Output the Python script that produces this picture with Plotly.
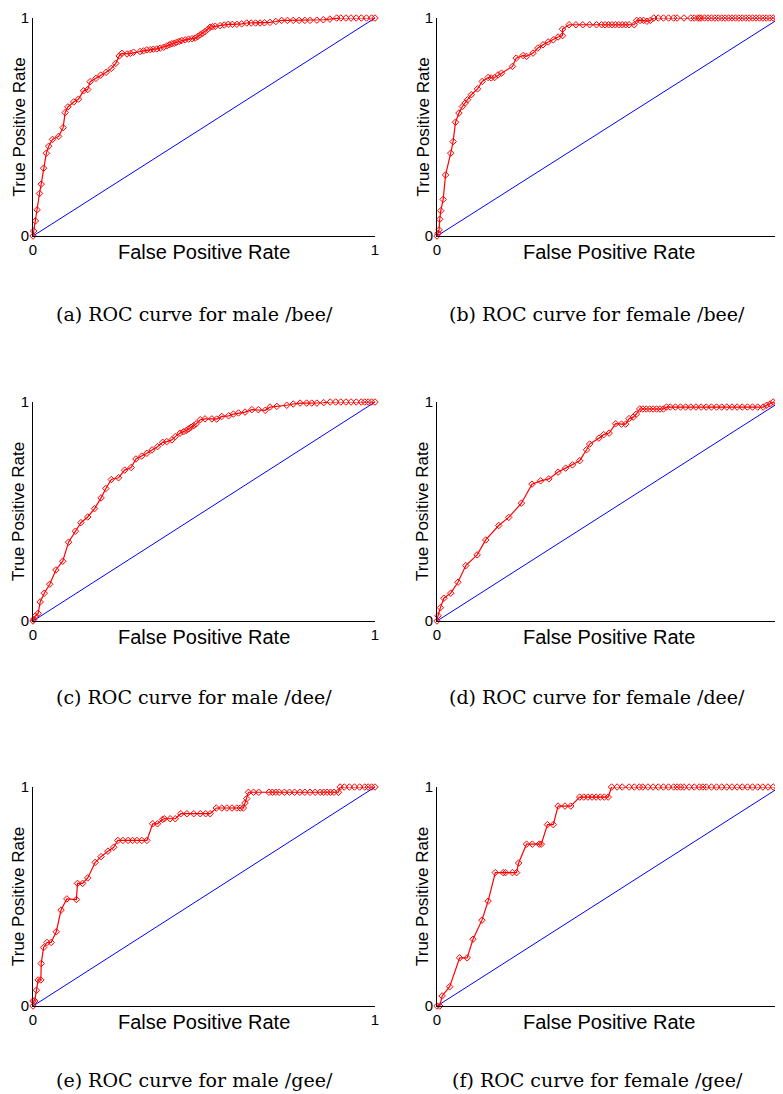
import plotly.graph_objects as go

# ---------------- data ----------------
diag_x = [0, 1]
diag_y = [0, 1]

fpr_a = [0, 0.002, 0.007, 0.012, 0.019, 0.024, 0.031, 0.039, 0.046, 0.057, 0.075, 0.088, 0.094, 0.102,
         0.119, 0.133, 0.148, 0.16, 0.167, 0.184, 0.198, 0.214, 0.229, 0.242, 0.252, 0.26, 0.275, 0.285,
         0.294, 0.313, 0.323, 0.333, 0.343, 0.352, 0.362, 0.372, 0.382, 0.391, 0.399, 0.406, 0.413, 0.42,
         0.428, 0.435, 0.445, 0.455, 0.465, 0.474, 0.482, 0.489, 0.496, 0.503, 0.511, 0.518, 0.525, 0.533,
         0.547, 0.559, 0.571, 0.583, 0.596, 0.61, 0.625, 0.638, 0.651, 0.664, 0.677, 0.693, 0.71, 0.727,
         0.744, 0.761, 0.778, 0.795, 0.81, 0.83, 0.849, 0.868, 0.888, 0.9, 0.915, 0.93, 0.945, 0.96, 0.975,
         0.99, 1]
tpr_a = [0, 0.023, 0.069, 0.12, 0.195, 0.238, 0.311, 0.38, 0.412, 0.443, 0.457, 0.497, 0.566, 0.592,
         0.615, 0.628, 0.666, 0.672, 0.708, 0.723, 0.738, 0.751, 0.769, 0.792, 0.826, 0.838, 0.835, 0.838,
         0.843, 0.846, 0.849, 0.854, 0.855, 0.857, 0.858, 0.862, 0.866, 0.872, 0.877, 0.882, 0.884, 0.889,
         0.893, 0.897, 0.9, 0.903, 0.905, 0.908, 0.915, 0.923, 0.93, 0.938, 0.948, 0.958, 0.96, 0.962,
         0.965, 0.968, 0.971, 0.971, 0.971, 0.973, 0.977, 0.977, 0.977, 0.977, 0.978, 0.98, 0.984, 0.989,
         0.989, 0.989, 0.989, 0.989, 0.989, 0.99, 0.992, 0.995, 1, 1, 1, 1, 1, 1, 1,
         1, 1]

fpr_b = [0, 0.003, 0.006, 0.008, 0.011, 0.018, 0.025, 0.04, 0.047, 0.054, 0.064, 0.074, 0.082, 0.089,
         0.1, 0.118, 0.132, 0.149, 0.158, 0.168, 0.178, 0.188, 0.22, 0.231, 0.251, 0.261, 0.28, 0.294,
         0.309, 0.324, 0.339, 0.353, 0.366, 0.366, 0.385, 0.405, 0.425, 0.445, 0.465, 0.48, 0.49, 0.5,
         0.51, 0.52, 0.53, 0.54, 0.55, 0.56, 0.575, 0.582, 0.592, 0.602, 0.612, 0.622, 0.632, 0.645, 0.66,
         0.675, 0.69, 0.7, 0.72, 0.74, 0.75, 0.76, 0.765, 0.77, 0.78, 0.79, 0.8, 0.81, 0.82, 0.83, 0.84,
         0.85, 0.86, 0.87, 0.88, 0.89, 0.9, 0.91, 0.92, 0.93, 0.94, 0.95, 0.96, 0.97, 0.98, 0.99, 1]
tpr_b = [0, 0.012, 0.028, 0.077, 0.116, 0.168, 0.28, 0.38, 0.433, 0.522, 0.564, 0.594, 0.61, 0.625,
         0.648, 0.675, 0.709, 0.727, 0.725, 0.727, 0.739, 0.747, 0.778, 0.816, 0.828, 0.824, 0.839, 0.862,
         0.877, 0.89, 0.9, 0.913, 0.919, 0.949, 0.969, 0.969, 0.969, 0.969, 0.969, 0.969, 0.969, 0.969,
         0.969, 0.969, 0.969, 0.969, 0.969, 0.969, 0.969, 0.989, 0.989, 0.989, 0.985, 0.989, 1, 1, 1,
         1, 1, 1, 1, 1, 1, 1, 1, 1, 1, 1, 1, 1, 1, 1, 1,
         1, 1, 1, 1, 1, 1, 1, 1, 1, 1, 1, 1, 1, 1, 1, 1]

fpr_c = [0, 0.002, 0.007, 0.015, 0.021, 0.033, 0.049, 0.067, 0.087, 0.104, 0.124, 0.14, 0.16, 0.18,
         0.199, 0.213, 0.229, 0.25, 0.268, 0.287, 0.301, 0.318, 0.333, 0.348, 0.364, 0.379, 0.391, 0.406,
         0.416, 0.43, 0.44, 0.448, 0.455, 0.462, 0.47, 0.477, 0.489, 0.503, 0.523, 0.537, 0.552, 0.572,
         0.586, 0.601, 0.62, 0.64, 0.659, 0.679, 0.693, 0.713, 0.742, 0.761, 0.781, 0.8, 0.815, 0.83, 0.85,
         0.869, 0.885, 0.9, 0.915, 0.93, 0.945, 0.96, 0.97, 0.98, 0.99, 1]
tpr_c = [0, 0.008, 0.023, 0.035, 0.087, 0.127, 0.168, 0.233, 0.273, 0.36, 0.41, 0.449, 0.475, 0.513,
         0.562, 0.605, 0.646, 0.654, 0.689, 0.701, 0.74, 0.753, 0.766, 0.781, 0.796, 0.816, 0.819, 0.827,
         0.842, 0.858, 0.864, 0.87, 0.877, 0.885, 0.892, 0.9, 0.919, 0.923, 0.923, 0.922, 0.934, 0.937,
         0.945, 0.95, 0.954, 0.965, 0.965, 0.962, 0.977, 0.98, 0.985, 0.991, 0.995, 0.995, 0.995, 0.995, 0.997,
         1, 1, 1, 1, 1, 1, 1, 1, 1, 1, 1]

fpr_d = [0, 0.003, 0.01, 0.02, 0.04, 0.061, 0.084, 0.117, 0.142, 0.18, 0.209, 0.246, 0.277, 0.302,
         0.326, 0.353, 0.375, 0.395, 0.416, 0.436, 0.445, 0.472, 0.486, 0.502, 0.521, 0.538, 0.55, 0.56,
         0.572, 0.581, 0.591, 0.6, 0.61, 0.62, 0.63, 0.64, 0.65, 0.66, 0.669, 0.68, 0.695, 0.71, 0.725,
         0.74, 0.755, 0.77, 0.785, 0.8, 0.815, 0.83, 0.845, 0.86, 0.875, 0.89, 0.905, 0.92, 0.935, 0.951,
         0.961, 0.971, 0.98, 0.99, 1]
tpr_d = [0, 0.024, 0.061, 0.104, 0.127, 0.177, 0.253, 0.302, 0.37, 0.436, 0.473, 0.538, 0.625, 0.64,
         0.649, 0.68, 0.698, 0.713, 0.732, 0.782, 0.808, 0.835, 0.851, 0.858, 0.901, 0.899, 0.899, 0.924,
         0.931, 0.945, 0.968, 0.968, 0.968, 0.968, 0.968, 0.968, 0.968, 0.968, 0.977, 0.977, 0.977, 0.977, 0.977,
         0.977, 0.977, 0.977, 0.977, 0.977, 0.977, 0.977, 0.977, 0.977, 0.977, 0.977, 0.977, 0.977, 0.977, 0.977,
         0.985, 0.991, 1, 1, 1]

fpr_e = [0, 0, 0.005, 0.01, 0.015, 0.023, 0.024, 0.031, 0.041, 0.053, 0.068, 0.082, 0.099, 0.127,
         0.13, 0.145, 0.16, 0.182, 0.199, 0.219, 0.236, 0.248, 0.263, 0.278, 0.291, 0.304, 0.318, 0.333,
         0.35, 0.364, 0.379, 0.384, 0.401, 0.416, 0.432, 0.45, 0.47, 0.489, 0.505, 0.518, 0.536, 0.552,
         0.567, 0.582, 0.596, 0.606, 0.615, 0.62, 0.625, 0.63, 0.645, 0.66, 0.69, 0.7, 0.71, 0.72, 0.735,
         0.75, 0.765, 0.78, 0.795, 0.81, 0.825, 0.84, 0.85, 0.86, 0.87, 0.88, 0.893, 0.898, 0.91, 0.925,
         0.94, 0.955, 0.97, 0.98, 0.99, 1]
tpr_e = [0, 0.023, 0.023, 0.072, 0.119, 0.119, 0.194, 0.267, 0.29, 0.29, 0.339, 0.438, 0.489, 0.486,
         0.56, 0.56, 0.585, 0.656, 0.682, 0.707, 0.725, 0.756, 0.756, 0.756, 0.756, 0.756, 0.756, 0.756,
         0.832, 0.832, 0.852, 0.855, 0.855, 0.855, 0.878, 0.878, 0.878, 0.878, 0.878, 0.878, 0.904, 0.904,
         0.904, 0.904, 0.904, 0.904, 0.904, 0.927, 0.947, 0.976, 0.976, 0.976, 0.976, 0.976, 0.976, 0.976, 0.976,
         0.976, 0.976, 0.976, 0.976, 0.976, 0.976, 0.976, 0.976, 0.976, 0.976, 0.976, 0.976, 1, 1, 1,
         1, 1, 1, 1, 1, 1]

fpr_f = [0, 0.008, 0.015, 0.037, 0.066, 0.088, 0.105, 0.131, 0.149, 0.17, 0.193, 0.2, 0.22, 0.232,
         0.238, 0.261, 0.278, 0.298, 0.304, 0.322, 0.339, 0.353, 0.373, 0.39, 0.416, 0.428, 0.44, 0.452,
         0.464, 0.476, 0.488, 0.499, 0.509, 0.525, 0.54, 0.56, 0.575, 0.59, 0.6, 0.615, 0.63, 0.645, 0.66,
         0.675, 0.69, 0.7, 0.71, 0.72, 0.735, 0.75, 0.765, 0.775, 0.785, 0.8, 0.815, 0.83, 0.845, 0.86,
         0.875, 0.89, 0.905, 0.92, 0.935, 0.95, 0.965, 0.98, 1]
tpr_f = [0, 0, 0.046, 0.088, 0.22, 0.22, 0.305, 0.392, 0.479, 0.609, 0.609, 0.609, 0.609, 0.609,
         0.653, 0.739, 0.739, 0.739, 0.739, 0.828, 0.828, 0.913, 0.913, 0.913, 0.954, 0.954, 0.954, 0.954,
         0.954, 0.954, 0.954, 0.954, 1, 1, 1, 1, 1, 1, 1, 1, 1, 1, 1,
         1, 1, 1, 1, 1, 1, 1, 1, 1, 1, 1, 1, 1, 1, 1,
         1, 1, 1, 1, 1, 1, 1, 1, 1]

captions = ["(a) ROC curve for male /bee/", "(b) ROC curve for female /bee/",
            "(c) ROC curve for male /dee/", "(d) ROC curve for female /dee/",
            "(e) ROC curve for male /gee/", "(f) ROC curve for female /gee/"]
x_title = "False Positive Rate"
y_title = "True Positive Rate"
tick_vals = [0, 1]
tick_text = ["0", "1"]

series = [(fpr_a, tpr_a), (fpr_b, tpr_b), (fpr_c, tpr_c),
          (fpr_d, tpr_d), (fpr_e, tpr_e), (fpr_f, tpr_f)]

# ---------------- layout geometry ----------------
# The page body has an 8px margin, so the figure is drawn 8px smaller and
# all reference pixel positions are shifted by that offset.
OFF = 8
W, H = 783 - OFF, 1094 - OFF
col_px = [(33 - OFF, 375 - OFF), (437 - OFF, 780 - OFF)]
row_px = [(18 - OFF, 236 - OFF), (402 - OFF, 621 - OFF), (787 - OFF, 1006 - OFF)]
caption_y_px = [314 - OFF, 697 - OFF, 1080 - OFF]
caption_x_px = [194 - OFF, 597 - OFF]

SANS = "Liberation Sans, Arial, sans-serif"
SERIF = "DejaVu Serif, serif"

fig = go.Figure()
layout_axes = {}
annotations = []

for i, (fx, ty) in enumerate(series):
    r, c = divmod(i, 2)
    n = i + 1
    xa = "x" if n == 1 else f"x{n}"
    ya = "y" if n == 1 else f"y{n}"
    fig.add_trace(go.Scatter(x=diag_x, y=diag_y, mode="lines",
                             line=dict(color="#0000ff", width=1),
                             xaxis=xa, yaxis=ya, showlegend=False, hoverinfo="skip"))
    fig.add_trace(go.Scatter(x=fx, y=ty, mode="lines+markers",
                             line=dict(color="#ff0000", width=1.2),
                             marker=dict(symbol="diamond-open", size=5, color="#ff0000",
                                         line=dict(width=1, color="#ff0000")),
                             cliponaxis=False,
                             xaxis=xa, yaxis=ya, showlegend=False))
    x0, x1 = col_px[c]
    y0, y1 = row_px[r]
    axis_common = dict(range=[0, 1], tickvals=tick_vals, ticktext=tick_text,
                       showline=True, linecolor="black", linewidth=1,
                       ticks="inside", ticklen=3, tickcolor="black",
                       showgrid=False, zeroline=False, automargin=False,
                       tickfont=dict(family=SANS, size=15, color="black"))
    layout_axes["xaxis" if n == 1 else f"xaxis{n}"] = dict(
        domain=[x0 / W, x1 / W], anchor=ya, **axis_common)
    layout_axes["yaxis" if n == 1 else f"yaxis{n}"] = dict(
        domain=[1 - y1 / H, 1 - y0 / H], anchor=xa, **axis_common)

    dx = "x domain" if n == 1 else f"x{n} domain"
    dy = "y domain" if n == 1 else f"y{n} domain"
    annotations.append(dict(text=x_title, xref=dx, yref=dy, x=0.5, y=0,
                            xanchor="center", yanchor="top", yshift=-3, showarrow=False,
                            font=dict(family=SANS, size=20, color="black")))
    annotations.append(dict(text=y_title, xref=dx, yref=dy, x=0, y=0.5, textangle=-90,
                            xanchor="right", yanchor="middle", xshift=-4, showarrow=False,
                            borderpad=0,
                            font=dict(family=SANS, size=17, color="black")))
    annotations.append(dict(text=captions[i], xref="paper", yref="paper",
                            x=caption_x_px[c] / W, y=1 - caption_y_px[r] / H,
                            xanchor="center", yanchor="middle", showarrow=False,
                            borderpad=0,
                            font=dict(family=SERIF, size=19, color="black")))

fig.update_layout(width=W, height=H, margin=dict(l=0, r=0, t=0, b=0),
                  paper_bgcolor="white", plot_bgcolor="white",
                  annotations=annotations, showlegend=False, **layout_axes)

fig.write_html("out.html")
